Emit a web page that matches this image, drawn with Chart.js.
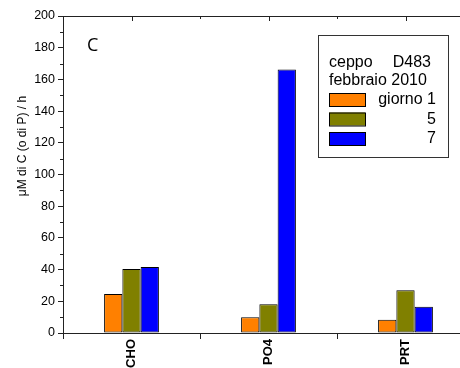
<!DOCTYPE html>
<html>
<head>
<meta charset="utf-8">
<script src="https://cdn.jsdelivr.net/npm/chart.js@4"></script>
<style>
  html, body { margin: 0; padding: 0; background: #fff; overflow: hidden; }
  #wrap { width: 460px; height: 368px; overflow: hidden; position: relative; }
  canvas { position: absolute; left: 0; top: 0; }
</style>
</head>
<body>
<div id="wrap"><canvas id="chart" width="474" height="368"></canvas></div>
<script>
// Chart data
const categories = ['CHO', 'PO4', 'PRT'];
const seriesLabels = ['giorno 1', '5', '7'];
const day1 = [24.6, 10, 8.4];
const day5 = [40.4, 18.1, 26.9];
const day7 = [41.6, 166.3, 16.6];
const seriesColors = ['#ff8000', '#808000', '#0000ff'];
const yMin = 0, yMax = 200, yStep = 20;
const legendHeader = ['ceppo', 'D483', 'febbraio 2010'];
const panelLetter = 'C';
const yTitle = 'μM di C (o di P) / h';

const axisColor = '#222';
const font = 'Liberation Sans, Arial, sans-serif';

// top frame line, inward ticks, minor ticks, y title, panel letter
const framePlugin = {
  id: 'frame',
  afterDraw(chart) {
    const ctx = chart.ctx;
    const area = chart.chartArea;
    const x = chart.scales.x;
    const y = chart.scales.y;
    ctx.save();
    ctx.strokeStyle = axisColor;
    ctx.lineWidth = 1;
    ctx.beginPath();
    ctx.moveTo(area.left, area.top + 0.5);
    ctx.lineTo(area.right, area.top + 0.5);
    // category centers & boundaries
    const n = categories.length;
    for (let i = 0; i < n; i++) {
      const px = Math.round(x.getPixelForValue(i)) + 0.5;
      ctx.moveTo(px, area.top);
      ctx.lineTo(px, area.top + 5);
      if (i < n - 1) {
        const bx = Math.round((x.getPixelForValue(i) + x.getPixelForValue(i + 1)) / 2) + 0.5;
        ctx.moveTo(bx, area.top);
        ctx.lineTo(bx, area.top + 3);
        ctx.moveTo(bx, area.bottom);
        ctx.lineTo(bx, area.bottom + 3);
      }
    }
    // minor y ticks
    for (let v = yMin + yStep / 2; v < yMax; v += yStep) {
      const py = Math.round(y.getPixelForValue(v)) + 0.5;
      ctx.moveTo(area.left - 3, py);
      ctx.lineTo(area.left, py);
    }
    ctx.stroke();

    // y axis title
    ctx.fillStyle = '#000';
    ctx.font = '12px ' + font;
    ctx.textAlign = 'center';
    ctx.textBaseline = 'middle';
    ctx.translate(23, 146);
    ctx.rotate(-Math.PI / 2);
    ctx.fillText(yTitle, 0, 0);
    ctx.restore();

    // panel letter
    ctx.save();
    ctx.fillStyle = '#000';
    ctx.font = '18px "Open Sans", sans-serif';
    ctx.textBaseline = 'alphabetic';
    ctx.fillText(panelLetter, 87, 51);
    ctx.restore();
  }
};

// boxed legend in the upper right
const legendPlugin = {
  id: 'boxLegend',
  afterDraw(chart) {
    const ctx = chart.ctx;
    const bx = 318, by = 35, bw = 130, bh = 122;
    ctx.save();
    ctx.strokeStyle = '#333';
    ctx.lineWidth = 1;
    ctx.strokeRect(bx + 0.5, by + 0.5, bw, bh);
    ctx.fillStyle = '#000';
    ctx.font = '16px ' + font;
    ctx.textBaseline = 'middle';
    ctx.textAlign = 'left';
    ctx.fillText(legendHeader[0], 329, 63);
    ctx.textAlign = 'right';
    ctx.fillText(legendHeader[1], 431, 63);
    ctx.textAlign = 'left';
    ctx.fillText(legendHeader[2], 329, 81);
    chart.data.datasets.forEach((ds, i) => {
      const cy = 99 + i * 19.5;
      ctx.fillStyle = ds.backgroundColor;
      ctx.fillRect(329, cy - 6, 36, 13);
      ctx.strokeStyle = '#000';
      ctx.strokeRect(329.5, cy - 5.5, 36, 13);
      ctx.fillStyle = '#000';
      ctx.textAlign = 'right';
      ctx.fillText(ds.label, 436, cy + 1);
    });
    ctx.restore();
  }
};

const datasets = [day1, day5, day7].map((vals, i) => ({
  label: seriesLabels[i],
  data: vals,
  backgroundColor: seriesColors[i],
  borderColor: '#000',
  borderWidth: 1,
  borderSkipped: false,
  categoryPercentage: 0.4,
  barPercentage: 1.0
}));

new Chart(document.getElementById('chart'), {
  type: 'bar',
  data: { labels: categories, datasets },
  options: {
    responsive: false,
    animation: false,
    devicePixelRatio: 1,
    layout: { padding: { top: 16, left: 0, right: 0, bottom: 0 } },
    plugins: { legend: { display: false }, tooltip: { enabled: false } },
    scales: {
      x: {
        offset: true,
        grid: { display: true, drawOnChartArea: false, tickLength: 6, color: axisColor, tickColor: axisColor },
        border: { display: true, color: axisColor, width: 1 },
        ticks: {
          color: '#000',
          font: { family: font, size: 13, weight: 'bold' },
          minRotation: 90, maxRotation: 90, padding: 0, autoSkip: false
        },
        afterFit(scale) { scale.height = 35; }
      },
      y: {
        min: yMin, max: yMax,
        grid: { display: true, drawOnChartArea: false, tickLength: 5, color: axisColor, tickColor: axisColor },
        border: { display: true, color: axisColor, width: 1 },
        ticks: { stepSize: yStep, color: '#000', font: { family: font, size: 12.5 }, padding: 3 },
        afterFit(scale) { scale.width = 63; }
      }
    }
  },
  plugins: [framePlugin, legendPlugin]
});
</script>
</body>
</html>
